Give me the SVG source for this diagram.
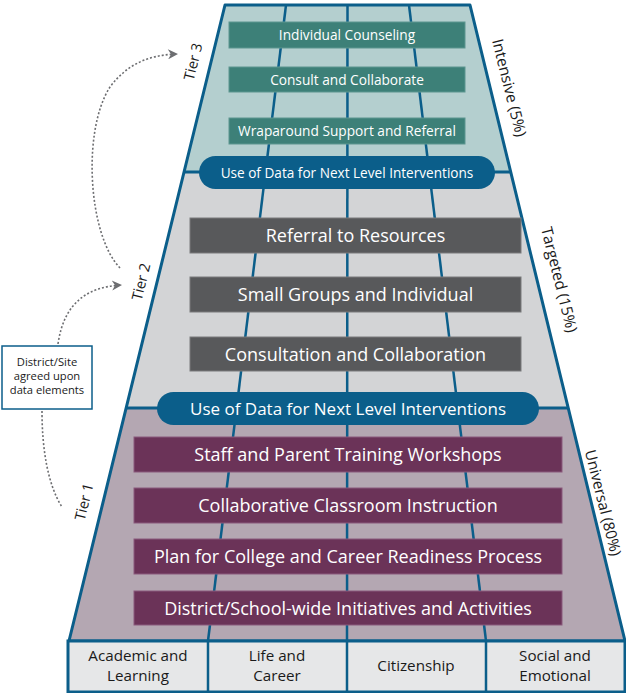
<svg xmlns="http://www.w3.org/2000/svg" width="626" height="693" viewBox="0 0 626 693">
<defs>
<style>
.edge{fill:none;stroke:#0b5e8a;stroke-width:3;stroke-linejoin:round}
.col{fill:none;stroke:#0b5e8a;stroke-width:2.5}
.t3{fill:#3d8078;stroke:#5d9690;stroke-width:1}
.t2{fill:#58595b;stroke:#7a7b7d;stroke-width:1}
.t1{fill:#6b3358;stroke:#8a5a7c;stroke-width:1}
.pill{fill:#0b5e8a}
.wt{font-family:"Open Sans","Noto Sans",sans-serif;fill:#ffffff;text-anchor:middle}
.bk{font-family:"Open Sans","Noto Sans",sans-serif;fill:#1a1a1a;text-anchor:middle}
.dot{fill:none;stroke:#6d6e71;stroke-width:1.6;stroke-dasharray:2 2}
</style>
<marker id="ah" viewBox="0 0 10 10" refX="9" refY="5" markerWidth="12" markerHeight="10" orient="auto" markerUnits="userSpaceOnUse">
<path d="M0,0 L10,5 L0,10 L3,5 Z" fill="#6d6e71"/>
</marker>
</defs>
<rect width="626" height="693" fill="#ffffff"/>

<g id="pyramid">
<polygon points="225,5 470,5 511,172 184,172" fill="#b4cfcf"/>
<polygon points="184,172 511,172 569,408 126.5,408" fill="#d3d4d6"/>
<polygon points="126.5,408 569,408 625,641 69,641" fill="#b4a7b2"/>
<line class="col" x1="286" y1="5" x2="208" y2="641"/>
<line class="col" x1="347.5" y1="5" x2="347" y2="641"/>
<line class="col" x1="409" y1="5" x2="486" y2="641"/>
<line class="edge" x1="184" y1="172" x2="511" y2="172"/>
<line class="edge" x1="126.5" y1="408" x2="569" y2="408"/>
<polygon class="edge" points="225,5 470,5 625,641 69,641"/>
</g>

<g id="tier3-boxes">
<rect class="t3" x="229" y="22" width="236" height="26"/>
<text class="wt" x="347" y="40" font-size="13.7">Individual Counseling</text>
<rect class="t3" x="229" y="67" width="236" height="25"/>
<text class="wt" x="347" y="84.5" font-size="13.7">Consult and Collaborate</text>
<rect class="t3" x="229" y="118" width="236" height="26"/>
<text class="wt" x="347" y="136" font-size="13.7">Wraparound Support and Referral</text>
</g>

<g id="pill-top">
<rect class="pill" x="199" y="156" width="296" height="33" rx="16.5"/>
<text class="wt" x="347" y="177.5" font-size="13.6">Use of Data for Next Level Interventions</text>
</g>

<g id="tier2-boxes">
<rect class="t2" x="190" y="218" width="331" height="35"/>
<text class="wt" x="355.5" y="242" font-size="18">Referral to Resources</text>
<rect class="t2" x="190" y="277" width="331" height="35"/>
<text class="wt" x="355.5" y="301" font-size="18">Small Groups and Individual</text>
<rect class="t2" x="190" y="337" width="331" height="34"/>
<text class="wt" x="355.5" y="360.5" font-size="18">Consultation and Collaboration</text>
</g>

<g id="pill-mid">
<rect class="pill" x="157" y="392" width="382" height="33" rx="16.5"/>
<text class="wt" x="348" y="414.5" font-size="17">Use of Data for Next Level Interventions</text>
</g>

<g id="tier1-boxes">
<rect class="t1" x="134" y="437" width="428" height="35"/>
<text class="wt" x="348" y="461" font-size="18">Staff and Parent Training Workshops</text>
<rect class="t1" x="134" y="488" width="428" height="35"/>
<text class="wt" x="348" y="512" font-size="18">Collaborative Classroom Instruction</text>
<rect class="t1" x="134" y="539" width="428" height="35"/>
<text class="wt" x="348" y="563" font-size="18">Plan for College and Career Readiness Process</text>
<rect class="t1" x="134" y="591" width="428" height="34"/>
<text class="wt" x="348" y="614.5" font-size="18">District/School-wide Initiatives and Activities</text>
</g>

<g id="domains">
<rect x="68" y="641" width="557" height="51" fill="#e6e7e8" stroke="#0b5e8a" stroke-width="3"/>
<line class="col" x1="208" y1="641" x2="208" y2="692"/>
<line class="col" x1="347" y1="641" x2="347" y2="692"/>
<line class="col" x1="486" y1="641" x2="486" y2="692"/>
<text class="bk" font-size="15.2"><tspan x="138" y="661">Academic and</tspan><tspan x="138" y="680.5">Learning</tspan></text>
<text class="bk" font-size="15.2"><tspan x="277" y="661">Life and</tspan><tspan x="277" y="680.5">Career</tspan></text>
<text class="bk" font-size="15.2" x="416" y="671">Citizenship</text>
<text class="bk" font-size="15.2"><tspan x="555" y="661">Social and</tspan><tspan x="555" y="680.5">Emotional</tspan></text>
</g>

<g id="tier-labels">
<text class="bk" font-size="14.5" transform="translate(198,63) rotate(-76)">Tier 3</text>
<text class="bk" font-size="14.5" transform="translate(146,283) rotate(-76)">Tier 2</text>
<text class="bk" font-size="14.5" transform="translate(89,503) rotate(-76)">Tier 1</text>
<text class="bk" font-size="15.5" transform="translate(504,89) rotate(76)">Intensive (5%)</text>
<text class="bk" font-size="15.5" transform="translate(554,281) rotate(76)">Targeted (15%)</text>
<text class="bk" font-size="15.2" transform="translate(598,504) rotate(76)">Universal (80%)</text>
</g>

<g id="data-box">
<rect x="2" y="346" width="90" height="63" fill="#ffffff" stroke="#0b5e8a" stroke-width="1.5"/>
<text class="bk" font-size="11.2"><tspan x="47" y="366">District/Site</tspan><tspan x="47" y="380">agreed upon</tspan><tspan x="47" y="394">data elements</tspan></text>
</g>

<g id="connectors">
<path class="dot" d="M58,344 C64,302 88,287 121,285" marker-end="url(#ah)"/>
<path class="dot" d="M42,411 C42,450 48,485 62,507"/>
<path class="dot" d="M120,268 C88,235 82,130 110,87 C128,63 150,55 177,54" marker-end="url(#ah)"/>
</g>
</svg>
